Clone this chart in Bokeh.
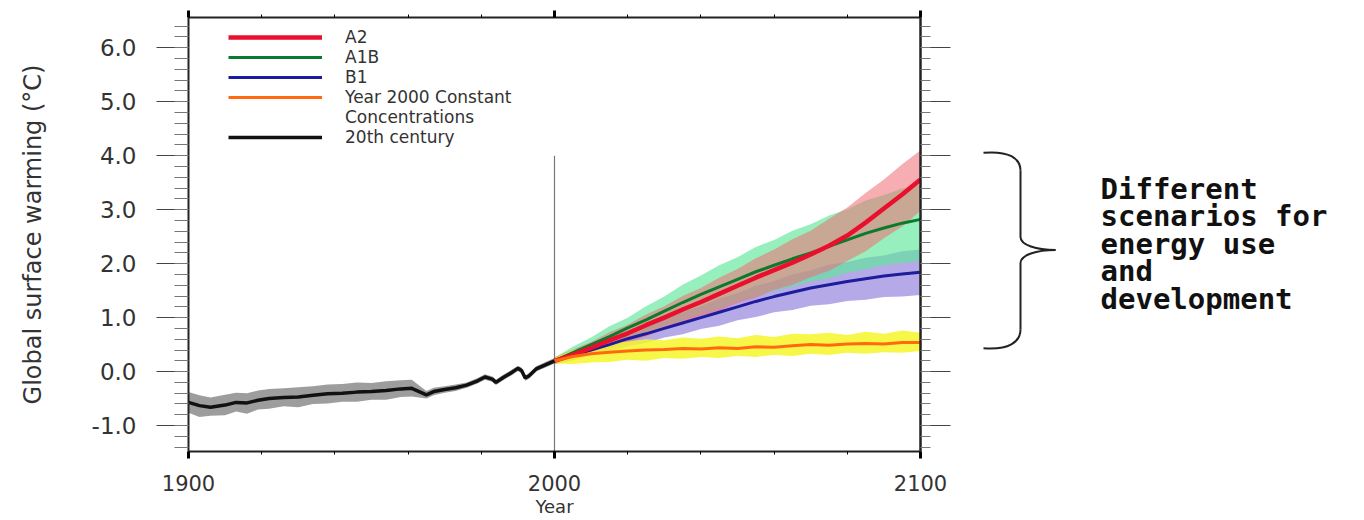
from bokeh.plotting import figure
from bokeh.models import (Range1d, LinearAxis, SingleIntervalTicker, Legend,
                          LegendItem, NumeralTickFormatter)
from bokeh.layouts import row
from bokeh.embed import file_html
from bokeh.resources import INLINE
from bokeh.core.properties import value

# ---------------- data ----------------
HIST_YEARS = [1900, 1903, 1906, 1910, 1913, 1916, 1919, 1922, 1926, 1930, 1934, 1938,
              1942, 1946, 1950, 1954, 1958, 1961, 1965, 1967, 1970, 1973, 1976, 1979,
              1981, 1983, 1984, 1986, 1988, 1990, 1991, 1992, 1993, 1995, 1998, 2000]
HIST_MEAN = [-0.57, -0.63, -0.66, -0.62, -0.57, -0.58, -0.53, -0.50, -0.48, -0.47, -0.44, -0.41,
             -0.40, -0.38, -0.37, -0.35, -0.32, -0.31, -0.43, -0.37, -0.33, -0.30, -0.25, -0.17,
             -0.10, -0.14, -0.20, -0.11, -0.03, 0.06, 0.02, -0.12, -0.08, 0.05, 0.14, 0.20]
HIST_LOW = [-0.76, -0.84, -0.82, -0.81, -0.74, -0.78, -0.70, -0.69, -0.64, -0.66, -0.60, -0.59,
            -0.56, -0.56, -0.52, -0.52, -0.47, -0.46, -0.50, -0.44, -0.39, -0.36, -0.30, -0.22,
            -0.15, -0.19, -0.25, -0.16, -0.08, 0.01, -0.03, -0.17, -0.13, 0.00, 0.09, 0.15]
HIST_HIGH = [-0.38, -0.44, -0.48, -0.43, -0.39, -0.40, -0.35, -0.32, -0.31, -0.29, -0.27, -0.24,
             -0.23, -0.20, -0.21, -0.18, -0.16, -0.15, -0.36, -0.30, -0.27, -0.24, -0.20, -0.12,
             -0.05, -0.09, -0.15, -0.06, 0.02, 0.11, 0.07, -0.07, -0.03, 0.10, 0.19, 0.25]

FUT_YEARS = [2000, 2005, 2010, 2015, 2020, 2025, 2030, 2035, 2040, 2045, 2050,
             2055, 2060, 2065, 2070, 2075, 2080, 2085, 2090, 2095, 2100]

A2_MEAN = [0.20, 0.31, 0.44, 0.58, 0.71, 0.86, 1.00, 1.15, 1.29, 1.44, 1.59,
           1.74, 1.88, 2.02, 2.17, 2.33, 2.52, 2.76, 3.02, 3.28, 3.56]
A2_LOW = [0.14, 0.21, 0.33, 0.42, 0.55, 0.65, 0.79, 0.89, 1.03, 1.13, 1.27,
          1.37, 1.51, 1.61, 1.75, 1.87, 2.05, 2.23, 2.47, 2.69, 2.98]
A2_HIGH = [0.26, 0.41, 0.55, 0.73, 0.87, 1.06, 1.21, 1.40, 1.55, 1.74, 1.90,
           2.10, 2.26, 2.45, 2.61, 2.83, 3.04, 3.31, 3.56, 3.84, 4.10]

A1B_MEAN = [0.20, 0.35, 0.50, 0.65, 0.81, 0.96, 1.12, 1.28, 1.43, 1.57, 1.71,
            1.85, 1.97, 2.09, 2.20, 2.32, 2.44, 2.56, 2.66, 2.75, 2.82]
A1B_LOW = [0.14, 0.24, 0.37, 0.47, 0.61, 0.71, 0.85, 0.95, 1.08, 1.17, 1.30,
           1.39, 1.50, 1.57, 1.67, 1.73, 1.83, 1.89, 1.97, 2.01, 2.06]
A1B_HIGH = [0.26, 0.46, 0.63, 0.84, 1.00, 1.21, 1.39, 1.61, 1.78, 1.97, 2.12,
            2.31, 2.44, 2.61, 2.73, 2.89, 3.01, 3.17, 3.27, 3.39, 3.46]

B1_MEAN = [0.20, 0.30, 0.40, 0.50, 0.61, 0.70, 0.80, 0.90, 1.00, 1.10, 1.20,
           1.30, 1.39, 1.47, 1.55, 1.61, 1.67, 1.72, 1.77, 1.81, 1.84]
B1_LOW = [0.14, 0.21, 0.31, 0.37, 0.47, 0.53, 0.63, 0.69, 0.79, 0.85, 0.95,
          1.01, 1.10, 1.14, 1.22, 1.25, 1.31, 1.33, 1.38, 1.39, 1.42]
B1_HIGH = [0.26, 0.39, 0.49, 0.63, 0.73, 0.87, 0.97, 1.11, 1.21, 1.35, 1.45,
           1.59, 1.68, 1.80, 1.88, 1.98, 2.03, 2.11, 2.15, 2.23, 2.26]

COMMIT_MEAN = [0.20, 0.28, 0.33, 0.36, 0.38, 0.40, 0.41, 0.43, 0.42, 0.44, 0.43,
               0.46, 0.45, 0.48, 0.50, 0.49, 0.51, 0.52, 0.51, 0.54, 0.54]
COMMIT_LOW = [0.15, 0.14, 0.17, 0.18, 0.22, 0.20, 0.25, 0.24, 0.27, 0.25, 0.29,
              0.27, 0.31, 0.29, 0.33, 0.31, 0.35, 0.33, 0.36, 0.35, 0.38]
COMMIT_HIGH = [0.25, 0.40, 0.47, 0.52, 0.56, 0.60, 0.58, 0.63, 0.61, 0.65, 0.62,
               0.68, 0.64, 0.70, 0.69, 0.72, 0.68, 0.74, 0.70, 0.76, 0.72]

LEGEND_LABELS = ["A2", "A1B", "B1", "Year 2000 Constant", "Concentrations", "20th century"]
Y_LABEL = "Global surface warming (°C)"
X_LABEL = "Year"
NOTE_LINES = ["Different", "scenarios for", "energy use", "and", "development"]

# ---------------- main figure ----------------
FONT = "DejaVu Sans"
TXT = "#333333"
FRAME_TOP = 17
FRAME_H = 434

p = figure(frame_width=732, frame_height=FRAME_H,
           x_range=Range1d(1900, 2100), y_range=Range1d(-1.48, 6.56),
           output_backend="svg", toolbar_location=None,
           min_border_left=188, min_border_top=FRAME_TOP, min_border_right=38,
           min_border_bottom=60)
p.grid.visible = False
p.outline_line_color = "#222222"
p.background_fill_color = "white"

# bands
p.varea(x=HIST_YEARS, y1=HIST_LOW, y2=HIST_HIGH, fill_color="#8c8c8c", fill_alpha=0.85)
p.varea(x=FUT_YEARS, y1=B1_LOW, y2=B1_HIGH, fill_color="#a394e2", fill_alpha=0.8)
p.varea(x=FUT_YEARS, y1=A1B_LOW, y2=A1B_HIGH, fill_color="#5fe69a", fill_alpha=0.65)
p.varea(x=FUT_YEARS, y1=A2_LOW, y2=A2_HIGH, fill_color="#f06c74", fill_alpha=0.55)
p.varea(x=FUT_YEARS, y1=COMMIT_LOW, y2=COMMIT_HIGH, fill_color="#f6f62a", fill_alpha=0.85)

# 2000 marker line
MARK_YEAR = 2000
MARK_TOP = 4.0
p.segment(x0=[MARK_YEAR], y0=[-1.48], x1=[MARK_YEAR], y1=[MARK_TOP],
          line_color="#777777", line_width=1.2)

# lines
r_b1 = p.line(FUT_YEARS, B1_MEAN, line_color="#1c1c9c", line_width=3)
r_a1b = p.line(FUT_YEARS, A1B_MEAN, line_color="#0b7a2c", line_width=3)
r_a2 = p.line(FUT_YEARS, A2_MEAN, line_color="#ea0f2c", line_width=4.5)
r_commit = p.line(FUT_YEARS, COMMIT_MEAN, line_color="#ff6a10", line_width=3)
r_hist = p.line(HIST_YEARS, HIST_MEAN, line_color="#111111", line_width=3.5)
r_dummy = p.line([], [], line_alpha=0)

# axes
AX = "#222222"
yl = p.yaxis[0]
yl.ticker = SingleIntervalTicker(interval=1, num_minor_ticks=5)
yl.formatter = NumeralTickFormatter(format="0.0")
yl.major_tick_out = 32
yl.major_tick_in = 0
yl.minor_tick_out = 14
yl.minor_tick_in = 0
yl.major_label_standoff = 20
yl.major_label_text_font = FONT
yl.major_label_text_font_size = "23px"
yl.major_label_text_color = TXT
yl.axis_label = Y_LABEL
yl.axis_label_text_font = FONT
yl.axis_label_text_font_size = "24px"
yl.axis_label_text_font_style = "normal"
yl.axis_label_text_color = TXT
yl.axis_label_standoff = 42
yl.axis_line_color = AX
yl.axis_line_width = 2
yl.major_tick_line_color = "#444444"
yl.minor_tick_line_color = "#777777"

xb = p.xaxis[0]
xb.ticker = SingleIntervalTicker(interval=100, num_minor_ticks=5)
xb.major_tick_out = 7
xb.major_tick_in = 0
xb.major_tick_line_width = 3
xb.minor_tick_out = 3
xb.minor_tick_in = 0
xb.major_label_standoff = 16
xb.major_label_text_font = FONT
xb.major_label_text_font_size = "21px"
xb.major_label_text_color = TXT
xb.axis_label = X_LABEL
xb.axis_label_text_font = FONT
xb.axis_label_text_font_size = "18px"
xb.axis_label_text_font_style = "normal"
xb.axis_label_text_color = TXT
xb.axis_label_standoff = 2
xb.axis_line_color = AX
xb.axis_line_width = 2

xt = LinearAxis(ticker=SingleIntervalTicker(interval=100, num_minor_ticks=5),
                major_label_text_font_size="1px", major_label_text_color=None,
                major_label_standoff=0,
                major_tick_out=7, major_tick_in=0, major_tick_line_width=3,
                minor_tick_out=3, minor_tick_in=0,
                axis_line_color=AX, axis_line_width=2)
p.add_layout(xt, "above")

yr = LinearAxis(ticker=SingleIntervalTicker(interval=1, num_minor_ticks=5),
                major_label_text_font_size="1px", major_label_text_color=None,
                major_label_standoff=0,
                major_tick_out=30, major_tick_in=0, minor_tick_out=10, minor_tick_in=0,
                major_tick_line_color="#444444", minor_tick_line_color="#777777",
                axis_line_color=AX, axis_line_width=2.5)
p.add_layout(yr, "right")

legend = Legend(items=[LegendItem(label=LEGEND_LABELS[0], renderers=[r_a2]),
                       LegendItem(label=LEGEND_LABELS[1], renderers=[r_a1b]),
                       LegendItem(label=LEGEND_LABELS[2], renderers=[r_b1]),
                       LegendItem(label=LEGEND_LABELS[3], renderers=[r_commit]),
                       LegendItem(label=LEGEND_LABELS[4], renderers=[r_dummy]),
                       LegendItem(label=LEGEND_LABELS[5], renderers=[r_hist])],
                location=(40, 304), spacing=0, padding=0, margin=0,
                label_height=20, glyph_height=20, glyph_width=94, label_standoff=23,
                label_text_font=FONT, label_text_font_size="17px",
                label_text_color=TXT, border_line_color=None,
                background_fill_alpha=0)
p.add_layout(legend)

# ---------------- side annotation (frame aligned with main frame) ----------------
P2_W = 398
p2 = figure(width=P2_W, height=520, x_range=Range1d(0, P2_W),
            y_range=Range1d(FRAME_TOP + FRAME_H, FRAME_TOP),
            output_backend="svg", toolbar_location=None, min_border=0)
p2.axis.visible = False
p2.grid.visible = False
p2.outline_line_color = None

BC = "#222222"
p2.bezier(x0=[25, 62, 97, 62], y0=[152, 236, 249, 328],
          x1=[62, 97, 62, 25], y1=[170, 249, 262, 347],
          cx0=[50, 62, 78, 62], cy0=[150, 244, 249, 341],
          cx1=[62, 78, 62, 50], cy1=[157, 249, 254, 349],
          line_color=BC, line_width=2)
p2.segment(x0=[62, 62], y0=[170, 262], x1=[62, 62], y1=[236, 328],
           line_color=BC, line_width=2)
p2.text(x=[142] * len(NOTE_LINES), y=[188, 215, 243, 270, 298], text=NOTE_LINES,
        text_font=value("DejaVu Sans Mono"), text_font_size="29px",
        text_font_style="bold", text_color="#111111", text_baseline="middle")

layout = row(p, p2)
open("out.html", "w").write(file_html(layout, INLINE))
